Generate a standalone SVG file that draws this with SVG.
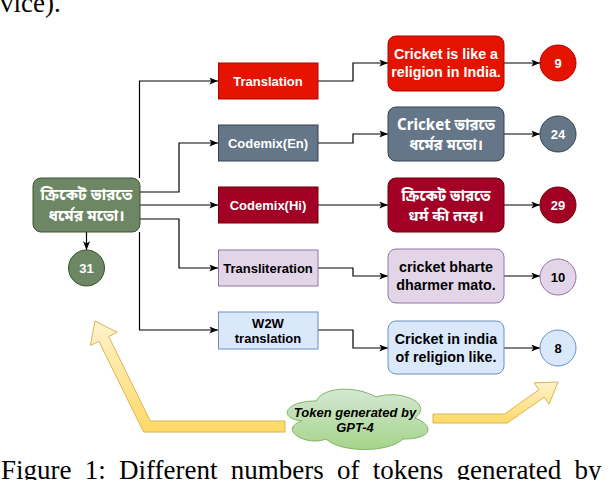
<svg xmlns="http://www.w3.org/2000/svg" width="608" height="480" viewBox="0 0 608 480">
<defs>
<marker id="arr" viewBox="0 0 10 8" refX="10" refY="4" markerWidth="9" markerHeight="7" markerUnits="userSpaceOnUse" orient="auto">
<path d="M0,0 L10,4 L0,8 L2.5,4 Z" fill="#000"/>
</marker>
<linearGradient id="yel" x1="0" y1="0" x2="0" y2="1">
<stop offset="0" stop-color="#fff2cc"/><stop offset="1" stop-color="#ffd966"/>
</linearGradient>
<linearGradient id="grn" x1="0" y1="0" x2="0" y2="1">
<stop offset="0" stop-color="#d5e8d4"/><stop offset="1" stop-color="#a5d48a"/>
</linearGradient>
</defs>
<style>
.ln{fill:none;stroke:#000;stroke-width:1.2;marker-end:url(#arr)}
.t{font-family:"Liberation Sans",Arial,sans-serif;font-weight:bold;text-anchor:middle}
.m{font-size:13px}
.r{font-size:14.3px}
.bn{font-family:"Noto Sans Bengali","Noto Serif Bengali","Lohit Bengali","Noto Sans Devanagari","Lohit Devanagari","Liberation Sans",sans-serif;font-weight:bold;text-anchor:middle}
.w{fill:#fff}
.k{fill:#000}
.cap{font-family:"Liberation Serif","Times New Roman",serif;font-size:27px;fill:#000}
.red{fill:#e51400;stroke:#b20000}
.gry{fill:#647687;stroke:#314354}
.mar{fill:#a20025;stroke:#6f0000}
.pur{fill:#e1d5e7;stroke:#9673a6}
.blu{fill:#dae8fc;stroke:#6c8ebf}
.gn{fill:#6d8764;stroke:#3a5431}
</style>

<text class="cap" x="0" y="12">vice).</text>
<text class="cap" x="1" y="479" word-spacing="6.5">Figure 1: Different numbers of tokens generated by</text>

<g id="connectors">
<path class="ln" d="M139.5,178 V81 H218"/>
<path class="ln" d="M140,192 H179 V143 H218"/>
<path class="ln" d="M140,205 H218"/>
<path class="ln" d="M140,219 H179 V268 H218"/>
<path class="ln" d="M139.5,232 V330 H218"/>
<path class="ln" d="M86.5,232 V250"/>
<path class="ln" d="M318,81 H353 V63 H388"/>
<path class="ln" d="M318,143 H353 V134 H388"/>
<path class="ln" d="M318,205 H388"/>
<path class="ln" d="M318,268 H353 V276 H388"/>
<path class="ln" d="M318,330 H353 V348 H388"/>
<path class="ln" d="M504,63 H540"/>
<path class="ln" d="M504,134 H540"/>
<path class="ln" d="M504,205 H540"/>
<path class="ln" d="M504,276 H540"/>
<path class="ln" d="M504,348 H540"/>
</g>

<g id="source">
<rect class="gn" x="33" y="178" width="107" height="54" rx="8"/>
<text class="bn w" font-size="15.5" x="86.5" y="200">ক্রিকেট ভারতে</text>
<text class="bn w" font-size="15.5" x="86.5" y="221">ধর্মের মতো।</text>
</g>
<g id="c31"><circle class="gn" cx="86.5" cy="268" r="18"/><text class="t m w" x="86.5" y="273">31</text></g>

<g id="translation"><rect class="red" x="218.5" y="63" width="99.5" height="36"/><text class="t m w" x="268" y="86">Translation</text></g>
<g id="codemix-en"><rect class="gry" x="218.5" y="125" width="99.5" height="36"/><text class="t m w" x="268" y="148">Codemix(En)</text></g>
<g id="codemix-hi"><rect class="mar" x="218.5" y="187" width="99.5" height="36"/><text class="t m w" x="268" y="210">Codemix(Hi)</text></g>
<g id="transliteration"><rect class="pur" x="218.5" y="250" width="99.5" height="36"/><text class="t m k" x="268" y="273">Transliteration</text></g>
<g id="w2w"><rect class="blu" x="218.5" y="312" width="99.5" height="37"/><text class="t m k" x="268" y="328">W2W</text><text class="t m k" x="268" y="343">translation</text></g>

<g id="res-translation"><rect class="red" x="388" y="36" width="116" height="55" rx="8"/><text class="t r w" x="446" y="59">Cricket is like a</text><text class="t r w" x="446" y="77">religion in India.</text></g>
<g id="res-codemix-en"><rect class="gry" x="388" y="107" width="116" height="54" rx="8"/><text class="bn w" font-size="15" x="446" y="130">Cricket ভারতে</text><text class="bn w" font-size="15" x="446" y="150">ধর্মের মতো।</text></g>
<g id="res-codemix-hi"><rect class="mar" x="388" y="178" width="116" height="54" rx="8"/><text class="bn w" font-size="15" x="446" y="201">ক্রিকেট ভারতে</text><text class="bn w" font-size="15" x="446" y="221">धर्म की तरह।</text></g>
<g id="res-transliteration"><rect class="pur" x="388" y="249" width="116" height="54" rx="8"/><text class="t r k" x="446" y="272">cricket bharte</text><text class="t r k" x="446" y="290">dharmer mato.</text></g>
<g id="res-w2w"><rect class="blu" x="388" y="321" width="116" height="53" rx="8"/><text class="t r k" x="446" y="344">Cricket in india</text><text class="t r k" x="446" y="362">of religion like.</text></g>

<g id="c9"><circle class="red" cx="558" cy="63" r="18"/><text class="t m w" x="558" y="68">9</text></g>
<g id="c24"><circle class="gry" cx="558" cy="134" r="18"/><text class="t m w" x="558" y="139">24</text></g>
<g id="c29"><circle class="mar" cx="558" cy="205" r="18"/><text class="t m w" x="558" y="210">29</text></g>
<g id="c10"><circle class="pur" cx="558" cy="277" r="18"/><text class="t m k" x="558" y="282">10</text></g>
<g id="c8"><circle class="blu" cx="558" cy="348" r="18"/><text class="t m k" x="558" y="353">8</text></g>

<g id="arrow-left"><polygon points="285,421 150.3,421 108.7,336.5 117.3,332.3 95,321 90.4,345.5 98.9,341.3 143.6,432 285,432" fill="url(#yel)" stroke="#d6b656"/></g>
<g id="arrow-right"><polygon points="433,414 504.5,414 539,389.8 534.1,382.9 558,382 549.1,404.1 544.2,397.2 507.4,423 433,423" fill="url(#yel)" stroke="#d6b656"/></g>

<g id="cloud">
<path d="M316,401 C285,401 277,418 302,421 C277,429 306,447 326,439 C341,453 388,453 403,439 C434,439 434,425 415,418 C434,404 402,389 376,397 C357,386 324,386 316,401 Z" fill="url(#grn)" stroke="#82b366"/>
<text class="t" font-size="13" font-style="italic" x="355" y="417">Token generated by</text>
<text class="t" font-size="13" font-style="italic" x="355" y="432">GPT-4</text>
</g>
</svg>
